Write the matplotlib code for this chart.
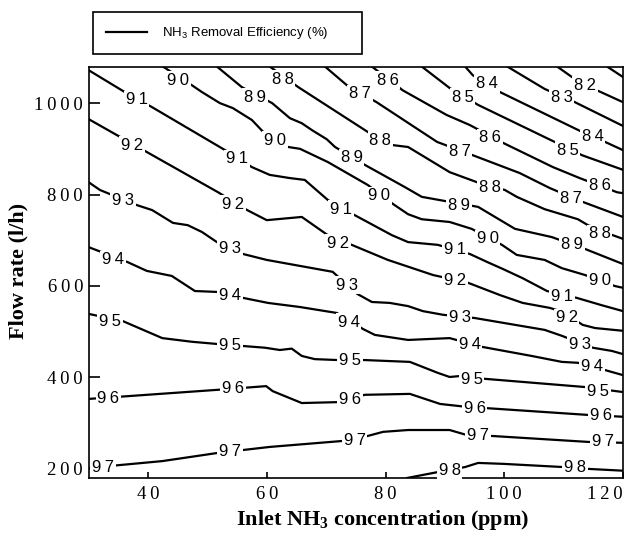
import matplotlib
matplotlib.use("Agg")
import matplotlib.pyplot as plt
from matplotlib.lines import Line2D

# NH3 removal efficiency (%) iso-lines: inlet NH3 concentration (ppm) vs flow rate (l/h)
c81 = [117.3, 120]
f81 = [1080, 1057]

c82 = [108.9, 111.4, 115.6, 120]
f82 = [1080, 1057, 1028, 1002]

c83 = [100.5, 106.8, 111.9, 120]
f83 = [1080, 1031, 1002, 950]

c84 = [93.4, 94.7, 99.3, 113.1, 117.0, 120]
f84 = [1080, 1061, 1024, 937, 915, 897]

c85 = [86.1, 90.8, 95.6, 108.5, 113.1, 120]
f85 = [1080, 1033, 996, 915, 886, 854]

c86 = [77.7, 82.9, 90.3, 94.2, 99.8, 108.2, 112.7, 119.0, 120]
f86 = [1080, 1028, 974, 952, 913, 860, 836, 805, 803]

c87 = [69.8, 73.5, 78.5, 88.7, 94.7, 102.6, 107.7, 113.2, 120]
f87 = [1080, 1039, 1002, 915, 886, 847, 814, 784, 751]

c88 = [60.5, 65.3, 77.0, 81.3, 83.8, 86.1, 90.8, 95.4, 100.1, 102.1, 106.8, 112.4, 114.1, 118.3, 120]
f88 = [1080, 1035, 937, 908, 904, 886, 849, 827, 810, 795, 768, 746, 733, 711, 703]

c89 = [51.6, 55.8, 60.9, 63.9, 65.9, 67.6, 70.1, 71.5, 76.5, 83.3, 86.1, 90.8, 95.6, 101.8, 108.0, 113.6, 120]
f89 = [1080, 1035, 1000, 967, 956, 941, 921, 904, 865, 816, 795, 784, 773, 725, 707, 681, 648]

c90 = [42.5, 47.4, 49.1, 52.1, 54.3, 57.5, 59.4, 63.6, 65.6, 70.3, 77.0, 81.3, 83.8, 86.1, 90.8, 94.5,
       99.6, 102.1, 106.8, 109.7, 113.6, 118.6, 120]
f90 = [1080, 1039, 1024, 1000, 989, 963, 937, 904, 900, 871, 821, 779, 757, 746, 740, 725,
       690, 668, 657, 639, 624, 600, 596]

c91 = [30, 36.1, 40.7, 53.0, 57.5, 60.5, 63.9, 66.4, 70.3, 74.8, 81.1, 83.8, 88.8, 94.2, 97.2, 99.8,
       103.1, 107.2, 112.2, 116.4, 120]
f91 = [1072, 1024, 991, 897, 860, 843, 836, 832, 788, 755, 711, 696, 690, 670, 652, 637,
       617, 589, 574, 558, 545]

c92 = [30, 35.3, 39.8, 51.8, 56.7, 60.0, 65.9, 70.3, 74.3, 80.4, 88.0, 93.9, 99.3, 103.1, 107.7,
       109.9, 113.2, 115.3, 120]
f92 = [965, 926, 893, 805, 766, 744, 751, 711, 690, 657, 624, 607, 580, 563, 552,
       543, 515, 508, 502]

c93 = [30, 31.9, 38.1, 40.7, 44.2, 46.7, 49.1, 51.6, 56.0, 60.0, 71.1, 75.2, 77.7, 80.7, 83.8, 86.3,
       89.7, 95.0, 106.8, 109.7, 114.9, 118.1, 120]
f93 = [827, 810, 777, 766, 738, 733, 718, 696, 670, 657, 631, 583, 565, 563, 556, 545,
       537, 530, 504, 491, 465, 458, 451]

c94 = [30, 36.6, 39.8, 44.0, 47.9, 51.6, 56.0, 60.2, 65.6, 71.8, 76.2, 78.2, 83.8, 90.8, 96.2,
       104.6, 109.7, 112.4, 117.0, 120]
f94 = [685, 652, 633, 622, 589, 587, 574, 563, 554, 541, 506, 493, 482, 486, 467,
       447, 434, 432, 416, 405]

c95 = [30, 35.8, 42.4, 47.4, 51.8, 59.7, 62.2, 64.2, 65.9, 68.1, 72.0, 76.5, 84.1, 88.8, 90.8,
       92.5, 96.7, 113.6, 120]
f95 = [539, 523, 486, 478, 473, 465, 460, 463, 447, 440, 438, 438, 434, 410, 401,
       403, 397, 379, 368]

c96 = [30, 51.8, 59.9, 61.0, 65.9, 72.0, 76.5, 84.1, 89.2, 93.4, 114.1, 120]
f96 = [353, 373, 381, 370, 344, 346, 362, 364, 342, 336, 318, 314]

c97 = [30, 42.4, 51.8, 60.5, 72.7, 77.0, 79.6, 83.8, 90.8, 93.7, 97.9, 114.1, 120]
f97 = [202, 217, 235, 248, 261, 272, 281, 285, 285, 274, 272, 259, 257]

c98 = [83.6, 88.8, 93.4, 95.6, 99.8, 109.9, 114.1, 120]
f98 = [180, 193, 204, 213, 211, 204, 200, 196]

levels = [81, 82, 83, 84, 85, 86, 87, 88, 89, 90, 91, 92, 93, 94, 95, 96, 97, 98]
conc = [c81, c82, c83, c84, c85, c86, c87, c88, c89, c90, c91, c92, c93, c94, c95, c96, c97, c98]
flow = [f81, f82, f83, f84, f85, f86, f87, f88, f89, f90, f91, f92, f93, f94, f95, f96, f97, f98]

x_ticks = [40, 60, 80, 100, 120]
y_ticks = [200, 400, 600, 800, 1000]

# inline label placement (level, concentration, flow rate)
label_spots = [
    (98, 90.8, 196), (98, 111.9, 202),
    (97, 32.4, 202), (97, 53.8, 239), (97, 74.8, 263), (97, 95.6, 272), (97, 116.6, 259),
    (96, 33.3, 353), (96, 54.3, 375), (96, 74.0, 351), (96, 95.0, 333), (96, 116.3, 316),
    (95, 33.6, 523), (95, 53.8, 469), (95, 74.0, 438), (95, 94.5, 395), (95, 115.8, 370),
    (94, 34.1, 657), (94, 53.8, 580), (94, 73.8, 521), (94, 94.2, 471), (94, 114.8, 425),
    (93, 35.8, 786), (93, 53.8, 681), (93, 73.5, 602), (93, 92.5, 532), (93, 112.7, 471),
    (92, 37.3, 908), (92, 54.3, 779), (92, 72.0, 694), (92, 91.7, 611), (92, 110.5, 530),
    (91, 38.1, 1007), (91, 55.0, 878), (91, 72.5, 768), (91, 91.7, 679), (91, 109.7, 578),
    (90, 45.1, 1050), (90, 61.4, 919), (90, 78.9, 797), (90, 97.2, 703), (90, 116.1, 611),
    (89, 58.0, 1013), (89, 74.3, 880), (89, 92.4, 777), (89, 111.4, 690),
    (88, 62.7, 1052), (88, 79.1, 919), (88, 97.6, 816), (88, 116.1, 714),
    (87, 75.7, 1020), (87, 92.5, 895), (87, 111.2, 792),
    (86, 80.4, 1050), (86, 97.6, 924), (86, 116.1, 819),
    (85, 93.0, 1013), (85, 110.7, 897),
    (84, 97.1, 1042), (84, 114.9, 926),
    (83, 109.7, 1013),
    (82, 113.6, 1039),
]

THIN = "\u2009"

plt.rcParams["mathtext.fontset"] = "custom"
plt.rcParams["mathtext.bf"] = "Liberation Serif:bold"
plt.rcParams["mathtext.sf"] = "Liberation Sans"
plt.rcParams["mathtext.rm"] = "Liberation Serif"

fig = plt.figure(figsize=(6.39, 5.35), dpi=100)
ax = fig.add_axes([0.1387, 0.1065, 0.8363, 0.7683])

for xs, ys in zip(conc, flow):
    ax.plot(xs, ys, color="black", lw=1.6, solid_joinstyle="round", zorder=2)

for lev, cx, cy in label_spots:
    ax.text(cx, cy, THIN.join(str(lev)), ha="center", va="center", fontsize=12,
            family=["Liberation Sans", "DejaVu Sans"], zorder=3,
            bbox=dict(boxstyle="square,pad=0.1", fc="white", ec="none"))

serif = ["Liberation Serif", "DejaVu Serif"]
ax.set_xlim(30, 120)
ax.set_ylim(180, 1079)
ax.set_xticks(x_ticks)
ax.set_yticks(y_ticks)
ax.set_xticklabels([THIN.join(str(v)) for v in x_ticks], family=serif, fontsize=13.5)
ax.set_yticklabels([THIN.join(str(v)) for v in y_ticks], family=serif, fontsize=13.5)
ax.tick_params(axis="y", direction="in", length=8, width=1.2, pad=4)
ax.tick_params(axis="x", direction="in", length=4.5, width=1.2, pad=6)
# keep the last concentration label inside the frame
ax.get_xticklabels()[-1].set_horizontalalignment("right")
for sp in ax.spines.values():
    sp.set_linewidth(1.2)

ax.set_xlabel("Inlet NH$_\\mathbf{3}$ concentration (ppm)", family="Liberation Serif",
              fontweight="bold", fontsize=16)
ax.set_ylabel("Flow rate (l/h)", family="Liberation Serif", fontweight="bold", fontsize=16)
ax.xaxis.set_label_coords(0.551, -0.072)
ax.yaxis.set_label_coords(-0.112, 0.504)

handle = Line2D([], [], color="black", lw=1.6)
fig.legend([handle], ["NH$_\\mathsf{3}$ Removal Efficiency (%)"], loc="upper left",
           bbox_to_anchor=(93 / 639, 1 - 55 / 535, (362 - 93) / 639, 43 / 535),
           mode="expand", frameon=True, fancybox=False, edgecolor="black",
           framealpha=1, borderpad=1.0, handlelength=3.1, handletextpad=1.1,
           borderaxespad=0, prop={"family": "Liberation Sans", "size": 9.5})
fig.legends[0].get_frame().set_linewidth(1.2)

fig.savefig("out.png", dpi=100)
